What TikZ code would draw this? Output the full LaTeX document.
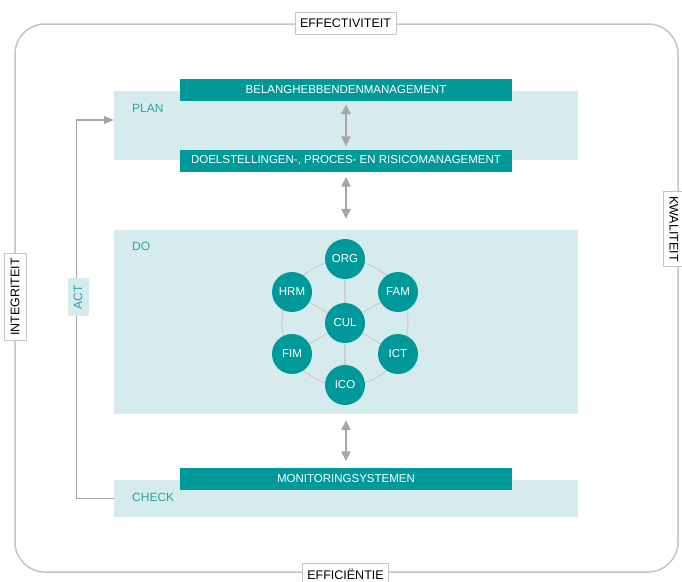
\documentclass[tikz,border=0pt]{standalone}
\usepackage{fontspec}
\setmainfont{Liberation Sans}
\usetikzlibrary{arrows.meta}
\usetikzlibrary{positioning,calc}

\definecolor{teal}{HTML}{009999}
\definecolor{bandblue}{HTML}{D6EBEE}
\definecolor{labelteal}{HTML}{2AA3A6}
\definecolor{arrowgray}{HTML}{A6A6A6}
\definecolor{framegray}{HTML}{C4C4C4}
\definecolor{ringgray}{HTML}{CFCFCF}

\begin{document}
\begin{tikzpicture}[x=1pt, y=-1pt]
\tikzset{
bandbox/.style = {fill=bandblue, minimum width=464pt, inner sep=0pt},
barbox/.style = {fill=teal, text=white, minimum width=332pt, minimum height=22pt, inner sep=0pt, font=\fontsize{11.5}{11.5}\selectfont},
phaselabel/.style = {text=labelteal, inner sep=0pt, font=\fontsize{12}{12}\selectfont},
criterion/.style = {draw=framegray, fill=white, line width=0.8pt, minimum height=22pt, inner xsep=5pt, font=\fontsize{12.5}{12.5}\selectfont},
areanode/.style = {circle, fill=teal, text=white, minimum size=40pt, inner sep=0pt, font=\fontsize{11.5}{11.5}\selectfont},
line/.style = {draw=arrowgray, line width=2.5pt, {Triangle[width=9pt,length=10pt]}-{Triangle[width=9pt,length=10pt]}},
ringline/.style = {draw=ringgray, line width=1.2pt}
}
\useasboundingbox (0,0) rectangle (682,581);

% outer frame
\draw [framegray, line width=1.5pt, rounded corners=30pt] (15,24) rectangle (678,572);
\node [criterion] (effectiviteit) at (345.5,23) {EFFECTIVITEIT};
\node [criterion] (efficientie) at (345.5,574) {EFFICIËNTIE};
\node [criterion, rotate=90] (integriteit) at (15,297) {INTEGRITEIT};
\node [criterion, rotate=-90] (kwaliteit) at (674,229) {KWALITEIT};

% phases
\node [bandbox, minimum height=69pt] (plan) at (346,125.5) {};
\node [bandbox, minimum height=184pt] (do) at (346,322) {};
\node [bandbox, minimum height=37pt] (check) at (346,498.5) {};
\node [phaselabel, anchor=west] (planlabel) at (132,108) {PLAN};
\node [phaselabel, anchor=west] (dolabel) at (132,246) {DO};
\node [phaselabel, anchor=west] (checklabel) at (132,497) {CHECK};

\node [barbox] (belang) at (346,90) {BELANGHEBBENDENMANAGEMENT};
\node [barbox] (doel) at (346,160.5) {DOELSTELLINGEN-, PROCES- EN RISICOMANAGEMENT};
\node [barbox] (monitoring) at (346,478.5) {MONITORINGSYSTEMEN};

% act loop
\coordinate (actin) at ($(plan.west)+(0,-5.5)$);
\draw [arrowgray, line width=1.2pt, -{Triangle[width=8pt,length=10pt]}] (check.west) -- ++(-37,0) |- (actin);
\node [fill=bandblue, text=labelteal, rotate=90, minimum height=21pt, minimum width=38pt, inner sep=0pt, font=\fontsize{12}{12}\selectfont] (act) at (78,297) {ACT};

% arrows
\path [line, shorten <=3pt, shorten >=3pt] (belang) -- (doel);
\path [line, shorten <=5pt, shorten >=11pt] (doel) -- (do);
\path [line, shorten <=6pt, shorten >=6pt] (do) -- (monitoring);

% areas
\draw [ringline] (345,323) circle (63pt);
\node [areanode] (cul) at (345,323) {CUL};
\foreach \x/\y in {345/259, 292/292, 398/292, 292/354, 398/354, 345/385}
  \draw [ringline] (cul) -- (\x,\y);
\node [areanode] (org) at (345,259) {ORG};
\node [areanode] (hrm) at (292,292) {HRM};
\node [areanode] (fam) at (398,292) {FAM};
\node [areanode] (fim) at (292,354) {FIM};
\node [areanode] (ict) at (398,354) {ICT};
\node [areanode] (ico) at (345,385) {ICO};
\end{tikzpicture}
\end{document}
